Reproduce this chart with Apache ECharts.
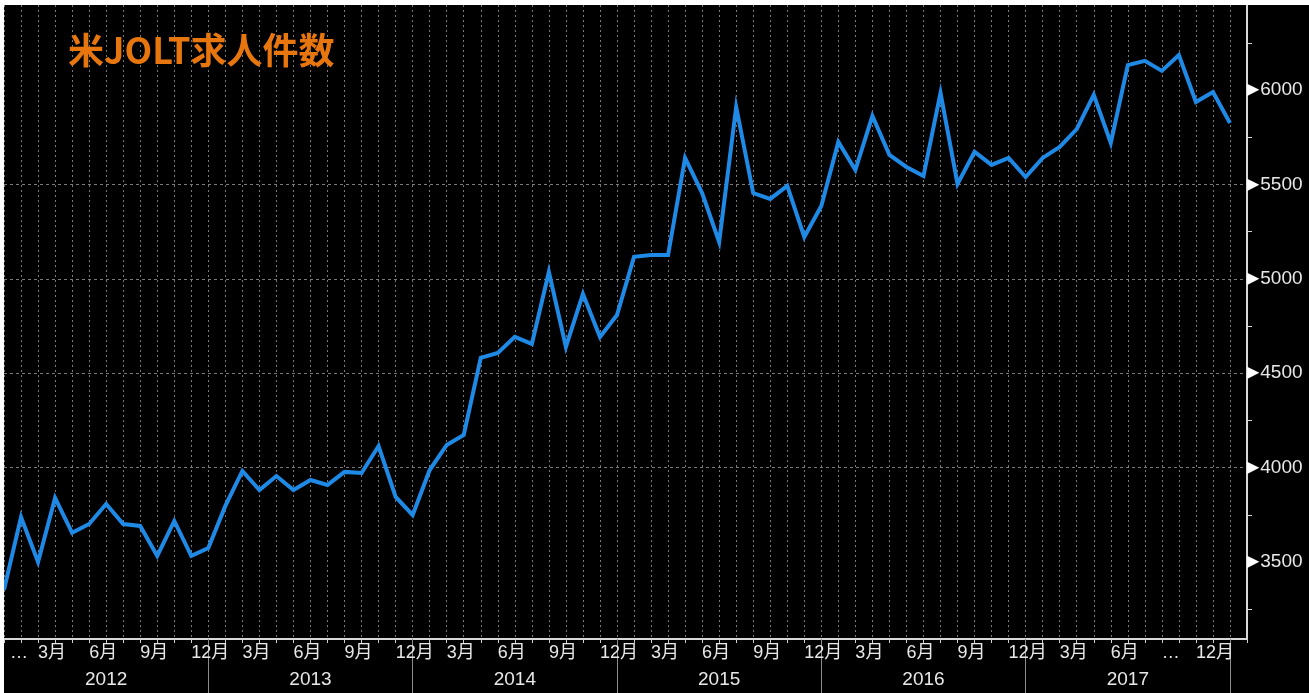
<!DOCTYPE html>
<html>
<head>
<meta charset="utf-8">
<title>米JOLT求人件数</title>
<script src="https://cdn.jsdelivr.net/npm/echarts@6/dist/echarts.min.js"></script>
<style>
  html, body { margin: 0; padding: 0; background: #fff; overflow: hidden; }
  #chart { position: absolute; left: 4px; top: 5px; width: 1305px; height: 688px; background: #000; }
</style>
</head>
<body>
<div id="chart"></div>
<script>
// Years shown on the second row of the time axis
const years = [2012, 2013, 2014, 2015, 2016, 2017];

// Monthly categories: Dec 2011 .. Jan 2018 (last one is empty space at the right edge)
const months = ['2011-12'];
years.forEach(y => {
  for (let m = 1; m <= 12; m++) months.push(y + '-' + String(m).padStart(2, '0'));
});
months.push('2018-01');

// JOLTS job openings (thousands), Dec 2011 .. Dec 2017
const openings = [
  3352, 3738, 3500, 3839, 3654, 3701, 3807, 3701, 3691, 3532, 3717, 3532,
  3574, 3797, 3982, 3881, 3955, 3881, 3934, 3908, 3977, 3971, 4114, 3845,
  3749, 3987, 4120, 4173, 4581, 4607, 4692, 4655, 5036, 4639, 4920, 4692,
  4808, 5116, 5126, 5126, 5640, 5454, 5195, 5910, 5454, 5423, 5492, 5221,
  5385, 5725, 5576, 5862, 5656, 5592, 5544, 5984, 5502, 5672, 5603, 5640,
  5539, 5640, 5698, 5793, 5974, 5719, 6132, 6154, 6101, 6185, 5936, 5989,
  5825
];

// Y axis: labelled ticks and small in-between ticks
const yLabels = [3500, 4000, 4500, 5000, 5500, 6000];
const yMinorTicks = [3250, 3750, 4250, 4750, 5250, 5750, 6250];
const yMin = 3092;
const yMax = 6450;

// Month tick texts (quarter ends)
const quarterText = { '03': '3月', '06': '6月', '09': '9月', '12': '12月' };

const chart = echarts.init(document.getElementById('chart'));

const fontAxis = "'Liberation Sans', 'Noto Sans CJK JP', sans-serif";

// labels sit left-aligned one month before their tick (Bloomberg style)
function monthLabel(value, index) {
  if (index === 0) return '{e|…}';
  if (index === 68) return '…';
  if (index === 70) return '12月';
  if (index >= 69) return '';
  const next = months[index + 1];
  if (!next) return '';
  return quarterText[next.slice(5)] || '';
}

const option = {
  backgroundColor: '#000',
  animation: false,
  title: {
    text: '米JOLT求人件数',
    left: 59,
    top: 22,
    textStyle: {
      color: '#e8760f',
      fontSize: 36,
      fontWeight: 'bold',
      fontFamily: "'Noto Sans CJK JP', sans-serif"
    }
  },
  grid: {
    left: 0,
    top: 0,
    right: 62,
    bottom: 54,
    containLabel: false,
    outerBoundsMode: 'none'
  },
  xAxis: [
    {
      type: 'category',
      data: months,
      boundaryGap: false,
      position: 'bottom',
      axisLine: { show: true, lineStyle: { color: '#d8d8d8', width: 2 } },
      axisTick: { show: true, interval: 0, length: 4, lineStyle: { color: '#cfcfcf' } },
      splitLine: {
        show: true,
        interval: 0,
        lineStyle: { color: '#7a7a7a', width: 1, type: [2, 3] }
      },
      axisLabel: {
        interval: 0,
        align: 'left',
        margin: 5,
        color: '#e8e8e8',
        fontSize: 18,
        fontFamily: fontAxis,
        formatter: monthLabel,
        rich: { e: { padding: [0, 0, 0, 6], fontSize: 18, color: '#e8e8e8', fontFamily: fontAxis } }
      }
    },
    {
      type: 'category',
      data: months,
      boundaryGap: false,
      position: 'bottom',
      axisLine: { show: false },
      axisTick: {
        show: true,
        interval: (i) => i > 0 && i % 12 === 0,
        length: 56,
        lineStyle: { color: '#8c8c8c', width: 1 }
      },
      splitLine: { show: false },
      axisLabel: {
        interval: (i) => i % 12 === 6,
        margin: 31,
        color: '#e8e8e8',
        fontSize: 19,
        fontFamily: fontAxis,
        formatter: (v) => v.slice(0, 4)
      }
    }
  ],
  yAxis: [
    {
      type: 'value',
      position: 'right',
      min: yMin,
      max: yMax,
      splitNumber: 7,
      axisLine: { show: true, lineStyle: { color: '#d8d8d8', width: 2 } },
      axisTick: { show: false, customValues: yLabels },
      splitLine: {
        show: true,
        showMinLine: false,
        showMaxLine: false,
        lineStyle: { color: '#7a7a7a', width: 1, type: [3, 3] }
      },
      axisLabel: {
        customValues: yLabels,
        margin: 0,
        formatter: (v) => '{t|▶}{v|' + v + '}',
        rich: {
          t: { color: '#ffffff', fontSize: 16, fontFamily: 'DejaVu Sans', padding: [0, 1, 0, 0] },
          v: { color: '#e8e8e8', fontSize: 19, fontFamily: fontAxis }
        }
      }
    },
    {
      type: 'value',
      position: 'right',
      min: yMin,
      max: yMax,
      axisLine: { show: false },
      axisTick: { show: true, customValues: yMinorTicks, length: 5, lineStyle: { color: '#d8d8d8' } },
      splitLine: { show: false },
      axisLabel: { show: false }
    }
  ],
  series: [
    {
      name: '米JOLT求人件数',
      type: 'line',
      data: openings,
      showSymbol: false,
      symbol: 'none',
      lineStyle: { color: '#1f8ae6', width: 4, join: 'miter' },
      itemStyle: { color: '#1f8ae6' }
    }
  ]
};

chart.setOption(option);
</script>
</body>
</html>
